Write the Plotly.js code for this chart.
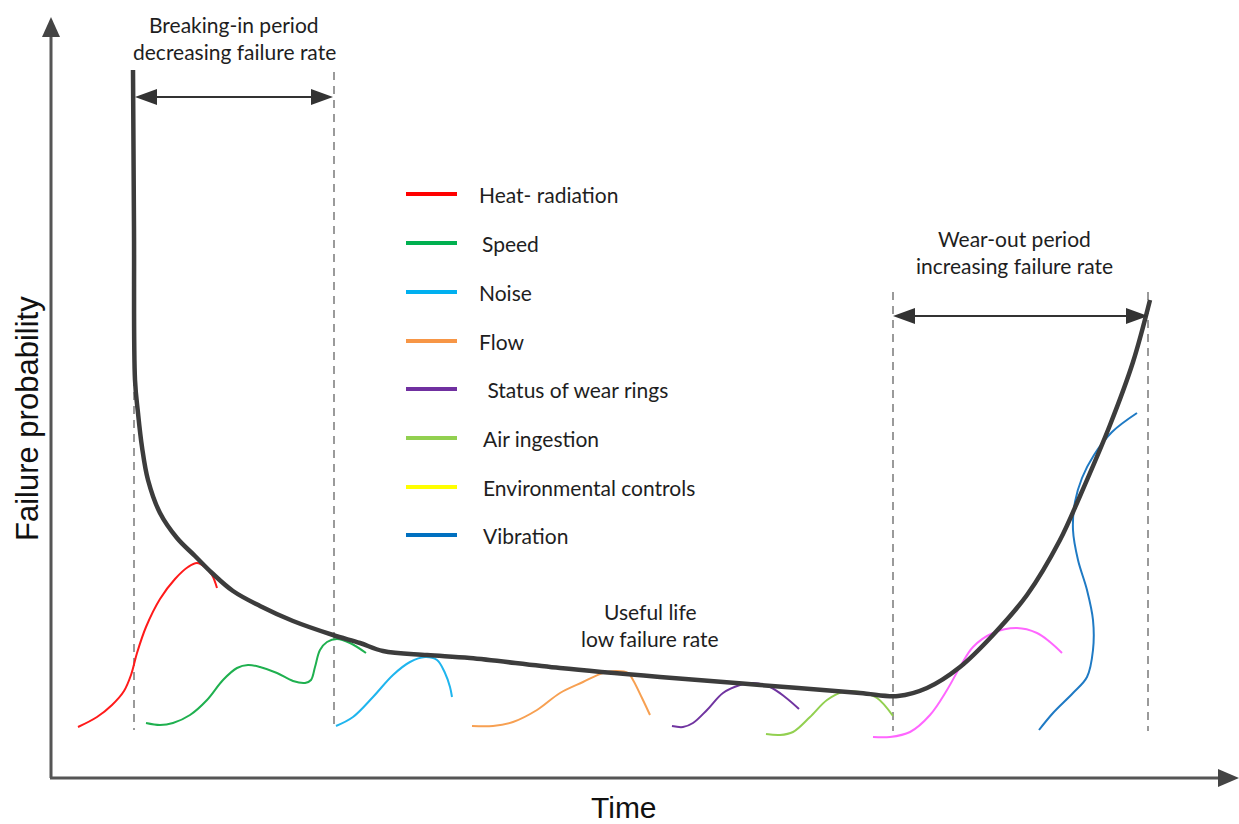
<!DOCTYPE html>
<html>
<head>
<meta charset="utf-8">
<script src="https://cdn.plot.ly/plotly-3.0.1.min.js"></script>
<style>html,body{margin:0;padding:0;background:#fff;}#chart{width:1239px;height:824px;}</style>
</head>
<body>
<div id="chart"></div>
<script>
// Bathtub curve (pixel-like coordinates; y grows downward)
const mainX = [133,134,135,138,142,148,160,177,195,212,233,260,293,333,360,383,427,470,560,660,760,860,898,927,960,993,1027,1060,1080,1110,1133,1150];
const mainY = [70,230,380,413,447,480,513,538,556,573,591,606,621,635,643,651,655,658,668,677,685,693,696,688,667,635,595,540,496,425,362,300];

const heatX = [78,97,112,124,131,137,146,160,175,188,197,205,212,217];
const heatY = [727,717,705,691,675,653,627,599,579,567,563,567,575,588];

const speedX = [146,160,173,190,207,223,237,248,260,277,293,305,311,315,320,327,337,350,366];
const speedY = [723,725,723,715,700,680,668,665,667,673,681,683,680,667,650,642,639,643,653];

const noiseX = [336,353,373,393,410,425,437,445,450,452];
const noiseY = [726,717,697,675,662,657,660,673,687,697];

const flowX = [472,493,513,537,560,583,603,617,628,633,642,650];
const flowY = [726,726,722,710,693,682,673,671,673,680,698,715];

const wearX = [672,683,693,707,723,740,753,770,785,799];
const wearY = [726,727,723,710,693,685,683,687,697,709];

const airX = [766,780,793,810,827,843,860,877,893];
const airY = [734,735,732,717,700,692,692,698,716];

const envX = [873,890,910,930,947,960,973,993,1017,1037,1050,1062];
const envY = [737,737,732,715,690,667,647,633,628,633,642,653];

const vibX = [1039,1053,1073,1087,1093,1093,1087,1078,1073,1075,1082,1094,1112,1137];
const vibY = [730,713,693,677,650,620,590,560,530,502,478,455,432,413];

const legendLabels = ['Heat- radiation','Speed','Noise','Flow',' Status of wear rings','Air ingestion','Environmental controls','Vibration'];
const legendColors = ['#ff0000','#00b050','#00b0f0','#f79646','#7030a0','#92d050','#ffff00','#0070c0'];
const legendRowY = [194,243,292,341,389,438,487,535];
const legendTextX = [477,480,477,477,480,481,481,481];

const periodLabels = ['Breaking-in period','decreasing failure rate','Wear-out period','increasing failure rate','Useful life','low failure rate'];
const periodX = [234,234,1014,1014,650,650];
const periodY = [24,51,238,265,611,638];

function curve(x, y, color, w) {
  return {x: x, y: y, type: 'scatter', mode: 'lines', hoverinfo: 'skip', showlegend: false,
    line: {color: color, width: w, shape: 'spline', smoothing: 1, simplify: false}};
}

const traces = [
  curve(heatX, heatY, '#ff1a1a', 2),
  curve(speedX, speedY, '#1fb04f', 2),
  curve(noiseX, noiseY, '#1fb5ee', 2),
  curve(flowX, flowY, '#f7a052', 2),
  curve(wearX, wearY, '#7034a0', 2),
  curve(airX, airY, '#92d050', 2),
  curve(envX, envY, '#ff66ff', 2),
  curve(vibX, vibY, '#1f7ac4', 2),
  curve(mainX, mainY, '#3c3c3c', 4.5)
];

const FONT_TXT = 'Lato, "Open Sans", sans-serif';
const shapes = [];
// dashed period boundaries
[[134,70,730],[334,72,730],[893,292,731],[1148,292,731]].forEach(d => {
  shapes.push({type:'line', xref:'x', yref:'y', x0:d[0], x1:d[0], y0:d[1], y1:d[2],
    line:{color:'#9a9a9a', width:2, dash:'8px,6px'}, layer:'below'});
});
// axes
shapes.push({type:'line', xref:'x', yref:'y', x0:51, x1:51, y0:778, y1:34, line:{color:'#555', width:3}});
shapes.push({type:'line', xref:'x', yref:'y', x0:50, x1:1222, y0:778, y1:778, line:{color:'#555', width:3}});
shapes.push({type:'path', xref:'x', yref:'y', path:'M 51 17 L 42 37 L 60 37 Z', fillcolor:'#444', line:{width:0}});
shapes.push({type:'path', xref:'x', yref:'y', path:'M 1239 778 L 1218 769 L 1218 787 Z', fillcolor:'#444', line:{width:0}});
// double arrows
function dbl(x0, x1, y) {
  shapes.push({type:'line', xref:'x', yref:'y', x0:x0+10, x1:x1-10, y0:y, y1:y, line:{color:'#333', width:2}});
  shapes.push({type:'path', xref:'x', yref:'y', path:`M ${x0} ${y} L ${x0+22} ${y-8} L ${x0+22} ${y+8} Z`, fillcolor:'#333', line:{width:0}});
  shapes.push({type:'path', xref:'x', yref:'y', path:`M ${x1} ${y} L ${x1-22} ${y-8} L ${x1-22} ${y+8} Z`, fillcolor:'#333', line:{width:0}});
}
dbl(135, 333, 97);
dbl(893, 1148, 316);
// legend lines
legendColors.forEach((c, i) => {
  shapes.push({type:'line', xref:'x', yref:'y', x0:406, x1:457, y0:legendRowY[i], y1:legendRowY[i], line:{color:c, width:4}});
});

const annotations = [];
legendLabels.forEach((t, i) => {
  annotations.push({x: legendTextX[i], y: legendRowY[i], xref:'x', yref:'y', text: t, showarrow:false,
    xanchor:'left', yanchor:'middle', font:{family: FONT_TXT, size:21, color:'#1e1e1e'}});
});
periodLabels.forEach((t, i) => {
  annotations.push({x: periodX[i], y: periodY[i], xref:'x', yref:'y', text: t, showarrow:false,
    xanchor:'center', yanchor:'middle', font:{family: FONT_TXT, size:21, color:'#1e1e1e'}});
});
annotations.push({x: 624, y: 807, xref:'x', yref:'y', text:'Time', showarrow:false, xanchor:'center', yanchor:'middle',
  font:{family:'"Liberation Sans", Arial, sans-serif', size:30, color:'#111'}});
annotations.push({x: 27, y: 419, xref:'x', yref:'y', text:'Failure probability', showarrow:false, textangle:-90,
  xanchor:'center', yanchor:'middle', font:{family:'"Liberation Sans", Arial, sans-serif', size:31, color:'#111'}});

const layout = {
  width: 1239, height: 824,
  margin: {l:0, r:0, t:0, b:0},
  paper_bgcolor: '#fff', plot_bgcolor: '#fff',
  showlegend: false,
  xaxis: {range:[0,1239], visible:false, fixedrange:true},
  yaxis: {range:[824,0], visible:false, fixedrange:true},
  shapes: shapes,
  annotations: annotations
};
Plotly.newPlot('chart', traces, layout, {displayModeBar:false, staticPlot:true});
</script>
</body>
</html>
